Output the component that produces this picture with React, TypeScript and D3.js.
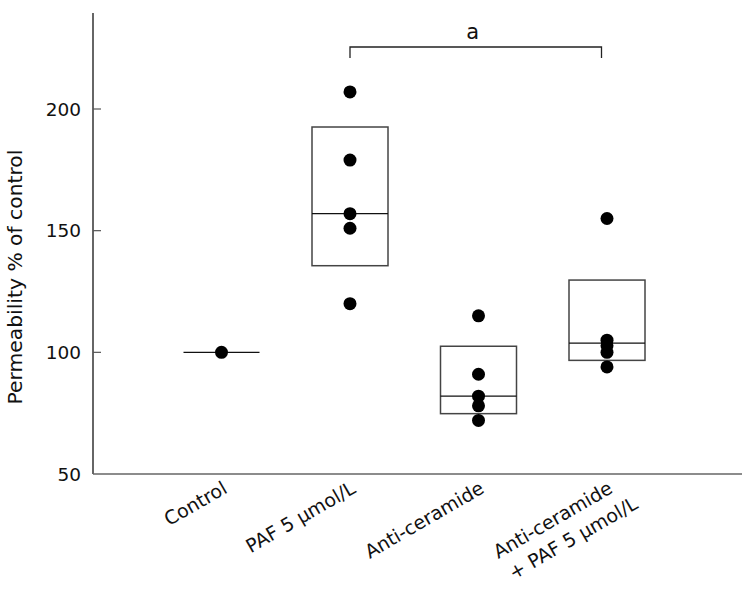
import React from "react";
import * as d3 from "d3";

const categories = ["Control", "PAF", "Anti", "AntiPAF"];
const labelLines: string[][] = [
  ["Control"],
  ["PAF 5 μmol/L"],
  ["Anti-ceramide"],
  ["Anti-ceramide", "+ PAF 5 μmol/L"],
];
const dotValues: number[][] = [
  [100],
  [207, 179, 157, 151, 120],
  [115, 91, 82, 78, 72],
  [155, 105, 102.7, 100, 94],
];
const boxLow = [100, 135.6, 74.8, 96.7];
const boxHigh = [100, 192.6, 102.5, 129.7];
const medians = [100, 157, 82, 103.8];
const yTicks = [50, 100, 150, 200];
const sigLabel = "a";

const W = 752;
const H = 597;
const FONT = "'DejaVu Sans', Verdana, sans-serif";

export default function App() {
  const left = 93;
  const bottom = 474;
  const top = 13;
  const right = 742;
  const y = d3.scaleLinear().domain([50, 240]).range([bottom, bottom - 190 * (365 / 150)]);
  const x = d3.scalePoint<string>().domain(categories).range([left, 735.5]).padding(1);
  const boxW = 76;

  const bx1 = x("PAF")!;
  const bx2 = x("AntiPAF")! - 5.5;
  const by = 47;

  return (
    <svg width={W} height={H} style={{ position: "absolute", left: 0, top: 0, background: "#fff" }}>
      {/* axes */}
      <line x1={left} y1={top} x2={left} y2={bottom} stroke="#333" strokeWidth={1.5} />
      <line x1={left} y1={bottom} x2={right} y2={bottom} stroke="#666" strokeWidth={1.5} />
      {yTicks.map((t) => (
        <g key={t}>
          {t !== 50 && (
            <line x1={left} x2={left + 8} y1={y(t)} y2={y(t)} stroke="#555" strokeWidth={1.2} />
          )}
          <text x={81} y={y(t)} dy="0.36em" textAnchor="end" fontFamily={FONT} fontSize={18.5} fill="#111">
            {t}
          </text>
        </g>
      ))}
      <text
        transform={`translate(22,${277}) rotate(-90)`}
        textAnchor="middle"
        fontFamily={FONT}
        fontSize={20.3}
        fill="#111"
      >
        Permeability % of control
      </text>

      {/* boxes */}
      {categories.map((c, i) => {
        const cx = x(c)!;
        const isBox = boxHigh[i] !== boxLow[i];
        return (
          <g key={c}>
            {isBox && (
              <rect
                x={cx - boxW / 2}
                y={y(boxHigh[i])}
                width={boxW}
                height={y(boxLow[i]) - y(boxHigh[i])}
                fill="none"
                stroke="#444"
                strokeWidth={1.5}
              />
            )}
            <line
              x1={cx - boxW / 2}
              x2={cx + boxW / 2}
              y1={y(medians[i])}
              y2={y(medians[i])}
              stroke="#111"
              strokeWidth={1.2}
            />
            {dotValues[i].map((v, j) => (
              <circle key={j} cx={cx} cy={y(v)} r={6.5} fill="#000" />
            ))}
          </g>
        );
      })}

      {/* significance bracket */}
      <path
        d={`M${bx1},${by + 11}V${by}H${bx2}V${by + 11}`}
        fill="none"
        stroke="#222"
        strokeWidth={1.3}
      />
      <text x={(bx1 + bx2) / 2 - 3} y={39} textAnchor="middle" fontFamily={FONT} fontSize={21} fill="#111">
        {sigLabel}
      </text>

      {/* category labels */}
      {categories.map((c, i) => {
        const cx = x(c)!;
        return (
          <g key={c} transform={`translate(${cx + 7},${492}) rotate(-30)`}>
            {labelLines[i].map((ln, k) => (
              <text
                key={k}
                x={k * 14}
                y={k * 26}
                textAnchor="end"
                fontFamily={FONT}
                fontSize={19}
                fill="#111"
              >
                {ln}
              </text>
            ))}
          </g>
        );
      })}
    </svg>
  );
}
